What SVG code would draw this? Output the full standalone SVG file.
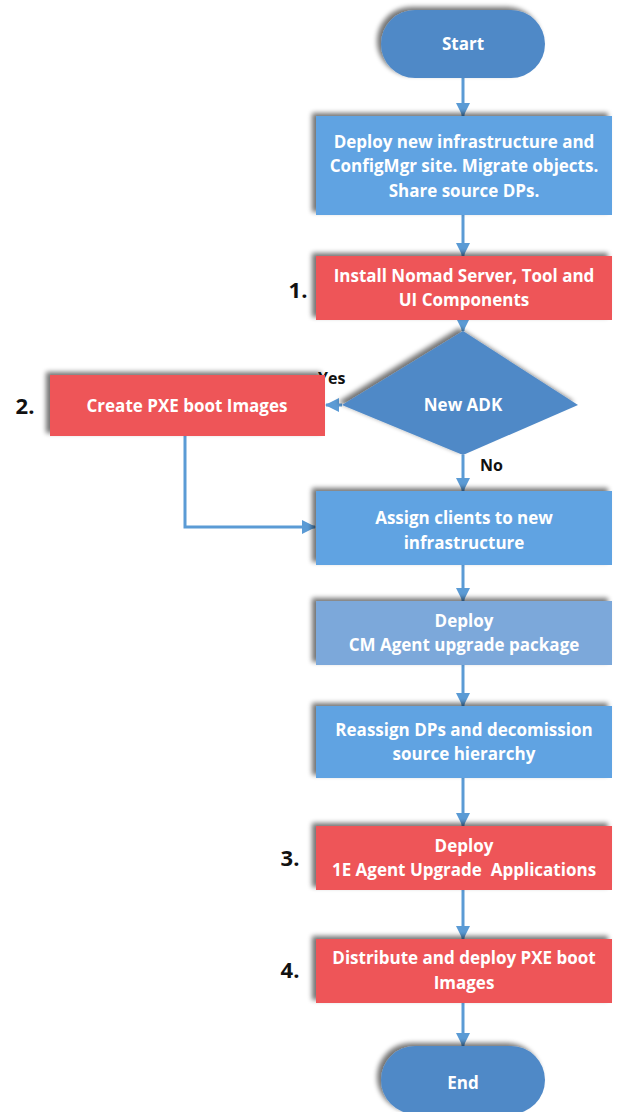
<svg xmlns="http://www.w3.org/2000/svg" width="617" height="1112" viewBox="0 0 617 1112">
<defs>
<filter id="sh" x="-10%" y="-20%" width="120%" height="140%">
<feGaussianBlur in="SourceAlpha" stdDeviation="2.5"/>
<feOffset dx="-4" dy="-3" result="b"/>
<feComponentTransfer><feFuncA type="linear" slope="0.55"/></feComponentTransfer>
<feMerge><feMergeNode/><feMergeNode in="SourceGraphic"/></feMerge>
</filter>
<marker id="ah" viewBox="0 0 14 14" refX="13" refY="7" markerWidth="14" markerHeight="14" markerUnits="userSpaceOnUse" orient="auto">
<path d="M0,0 L14,7 L0,14 z" fill="#5B9BD5"/>
</marker>
</defs>
<style>
.t{font-family:"Open Sans",Lato,sans-serif;font-weight:bold;font-size:17px;fill:#ffffff;text-anchor:middle;white-space:pre}
.n{font-family:"Open Sans",Lato,sans-serif;font-weight:bold;font-size:22px;fill:#111111;text-anchor:middle}
.l{font-family:"Open Sans",Lato,sans-serif;font-weight:bold;font-size:16px;fill:#111111}
.blue{fill:#61A3E2}
.red{fill:#EE5558}
.dark{fill:#5089C7}
.grey{fill:#7BA8DA}
.c{stroke:#5B9BD5;stroke-width:3;fill:none;marker-end:url(#ah)}
</style>
<rect width="617" height="1112" fill="#ffffff"/>
<g id="connectors">
<line class="c" x1="463" y1="78" x2="463" y2="116"/>
<line class="c" x1="463" y1="215" x2="463" y2="256"/>
<line class="c" x1="463" y1="320" x2="463" y2="331"/>
<line class="c" x1="342" y1="405" x2="326" y2="405"/>
<line class="c" x1="463" y1="455" x2="463" y2="491"/>
<polyline class="c" points="185,436 185,527 315,527"/>
<line class="c" x1="463" y1="565" x2="463" y2="601"/>
<line class="c" x1="463" y1="665" x2="463" y2="706"/>
<line class="c" x1="463" y1="778" x2="463" y2="826"/>
<line class="c" x1="463" y1="890" x2="463" y2="939"/>
<line class="c" x1="463" y1="1003" x2="463" y2="1046"/>
</g>
<g id="start">
<rect class="dark" x="381" y="10" width="164" height="68" rx="34" filter="url(#sh)"/>
<text class="t" x="463" y="50">Start</text>
</g>
<g id="deploy-infra">
<rect class="blue" x="316" y="116" width="296" height="99" filter="url(#sh)"/>
<text class="t" x="464" y="148">Deploy new infrastructure and</text>
<text class="t" x="464" y="172">ConfigMgr site. Migrate objects.</text>
<text class="t" x="464" y="197">Share source DPs.</text>
</g>
<g id="install-nomad">
<rect class="red" x="316" y="256" width="296" height="64" filter="url(#sh)"/>
<text class="t" x="464" y="282">Install Nomad Server, Tool and</text>
<text class="t" x="464" y="306">UI Components</text>
<text class="n" x="298" y="298">1.</text>
</g>
<g id="new-adk">
<polygon class="dark" points="463,331 578,405 463,455 342,405" filter="url(#sh)"/>
<text class="t" x="463" y="411">New ADK</text>
<text class="l" x="318" y="384">Yes</text>
<text class="l" x="480" y="471">No</text>
</g>
<g id="create-pxe">
<rect class="red" x="50" y="375" width="275" height="61" filter="url(#sh)"/>
<text class="t" x="187" y="412">Create PXE boot Images</text>
<text class="n" x="25" y="414">2.</text>
</g>
<g id="assign-clients">
<rect class="blue" x="316" y="491" width="296" height="74" filter="url(#sh)"/>
<text class="t" x="464" y="524">Assign clients to new</text>
<text class="t" x="464" y="549">infrastructure</text>
</g>
<g id="deploy-cm">
<rect class="grey" x="316" y="601" width="296" height="64" filter="url(#sh)"/>
<text class="t" x="464" y="627">Deploy</text>
<text class="t" x="464" y="651">CM Agent upgrade package</text>
</g>
<g id="reassign">
<rect class="blue" x="316" y="706" width="296" height="72" filter="url(#sh)"/>
<text class="t" x="464" y="736">Reassign DPs and decomission</text>
<text class="t" x="464" y="760">source hierarchy</text>
</g>
<g id="deploy-1e">
<rect class="red" x="316" y="826" width="296" height="64" filter="url(#sh)"/>
<text class="t" x="464" y="852">Deploy</text>
<text class="t" x="464" y="876">1E Agent Upgrade  Applications</text>
<text class="n" x="290" y="866">3.</text>
</g>
<g id="distribute">
<rect class="red" x="316" y="939" width="296" height="64" filter="url(#sh)"/>
<text class="t" x="464" y="964">Distribute and deploy PXE boot</text>
<text class="t" x="464" y="989">Images</text>
<text class="n" x="290" y="978">4.</text>
</g>
<g id="end">
<rect class="dark" x="381" y="1046" width="164" height="68" rx="34" filter="url(#sh)"/>
<text class="t" x="463" y="1089">End</text>
</g>
</svg>
